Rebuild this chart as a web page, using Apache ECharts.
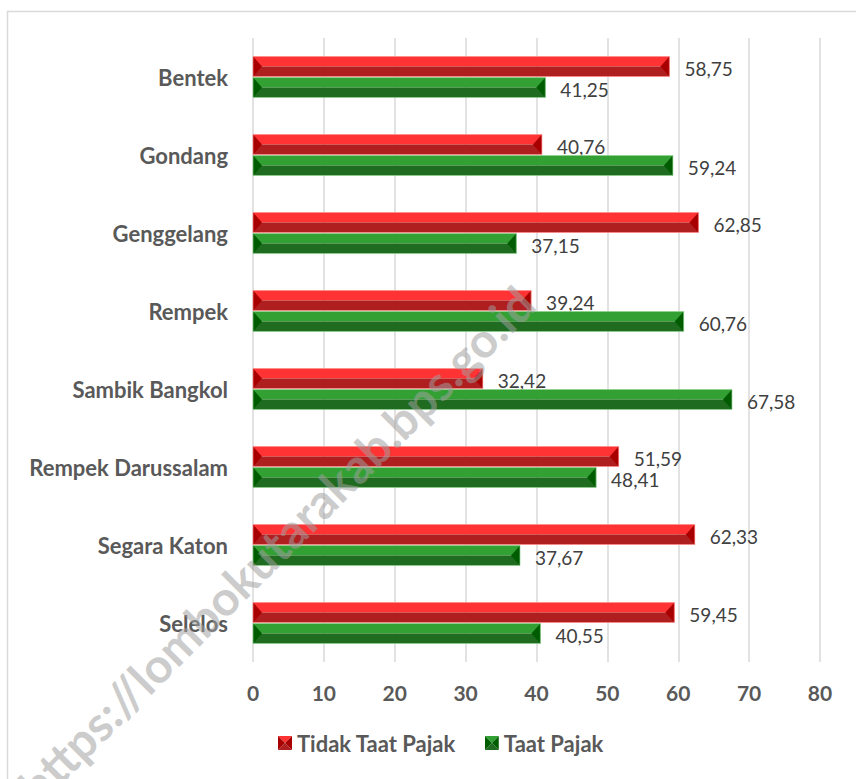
<!DOCTYPE html>
<html>
<head>
<meta charset="utf-8">
<script src="https://cdn.jsdelivr.net/npm/echarts@6/dist/echarts.min.js"></script>
<style>html,body{margin:0;padding:0;background:#fff}#c{width:856px;height:779px}</style>
</head>
<body>
<div id="c"></div>
<script>
var categories = ['Bentek', 'Gondang', 'Genggelang', 'Rempek', 'Sambik Bangkol', 'Rempek Darussalam', 'Segara Katon', 'Selelos'];
var tidakTaat = [58.75, 40.76, 62.85, 39.24, 32.42, 51.59, 62.33, 59.45];
var taat = [41.25, 59.24, 37.15, 60.76, 67.58, 48.41, 37.67, 40.55];
var seriesNames = ['Tidak Taat Pajak', 'Taat Pajak'];
var xTicks = [0, 10, 20, 30, 40, 50, 60, 70, 80];

var palettes = [
  {top: '#FF3333', bottom: '#B01F1F', end: '#A80000', edge: '#FF8A8A'},
  {top: '#33A033', bottom: '#1F6B1F', end: '#005C00', edge: '#8FD08F'}
];
function fmt(v){ return v.toFixed(2).replace('.', ','); }
function iconSvg(p){
  var s = '<svg xmlns="http://www.w3.org/2000/svg" width="14" height="14">' +
    '<polygon points="0,0 14,0 7,7" fill="' + p.top + '"/>' +
    '<polygon points="0,14 14,14 7,7" fill="' + p.bottom + '"/>' +
    '<polygon points="0,0 7,7 0,14" fill="' + p.end + '"/>' +
    '<polygon points="14,0 7,7 14,14" fill="' + p.end + '"/></svg>';
  return 'image://data:image/svg+xml;charset=utf-8,' + encodeURIComponent(s);
}
function makeRender(si){
  var p = palettes[si];
  return function(params, api){
    var val = api.value(0), ci = api.value(1);
    var start = api.coord([0, ci]);
    var end = api.coord([val, ci]);
    var yc = start[1];
    var h = 20;
    var top = si === 0 ? yc - 20.5 : yc + 0.5;
    var bot = top + h, mid = top + h / 2;
    var x0 = start[0], x1 = end[0];
    var ch = 9;
    return {
      type: 'group',
      children: [
        {type: 'rect', shape: {x: x0, y: top, width: x1 - x0, height: h / 2}, style: {fill: p.top}},
        {type: 'rect', shape: {x: x0, y: mid, width: x1 - x0, height: h / 2}, style: {fill: p.bottom}},
        {type: 'polygon', shape: {points: [[x0, top], [x0 + ch, mid], [x0, bot]]}, style: {fill: p.end}},
        {type: 'polygon', shape: {points: [[x1, top], [x1 - ch, mid], [x1, bot]]}, style: {fill: p.end}},
        {type: 'rect', shape: {x: x0, y: top, width: x1 - x0, height: h}, style: {fill: 'none', stroke: p.edge, lineWidth: 1, opacity: 0.7}},
        {type: 'text', style: {text: fmt(val), x: x1 + 15, y: mid + 2, verticalAlign: 'middle', align: 'left',
          font: '19px Lato, "Open Sans", sans-serif', fill: '#404040'}}
      ]
    };
  };
}
function toData(arr){ return arr.map(function(v, i){ return [v, i]; }); }

var chart = echarts.init(document.getElementById('c'), null, {renderer: 'svg'});
chart.setOption({
  backgroundColor: '#fff',
  animation: false,
  grid: {left: 253, right: 36, top: 38, bottom: 117, containLabel: false},
  xAxis: {
    type: 'value', min: 0, max: 80, interval: 10,
    axisLine: {show: false}, axisTick: {show: false},
    splitLine: {show: true, lineStyle: {color: '#D9D9D9', width: 1.5}},
    axisLabel: {margin: 20, color: '#595959', fontSize: 21, fontWeight: 'bold', fontFamily: 'Lato',
      formatter: function(v){ return xTicks.indexOf(v) >= 0 ? String(v) : ''; }}
  },
  yAxis: {
    type: 'category', data: categories, inverse: true,
    axisLine: {show: false}, axisTick: {show: false},
    axisLabel: {margin: 25, color: '#595959', fontSize: 22, fontWeight: 'bold', fontFamily: 'Lato'}
  },
  legend: {
    bottom: 20, left: 273, itemWidth: 14, itemHeight: 14, itemGap: 29,
    textStyle: {color: '#595959', fontSize: 22, fontWeight: 'bold', fontFamily: 'Lato'},
    data: [{name: seriesNames[0], icon: iconSvg(palettes[0])}, {name: seriesNames[1], icon: iconSvg(palettes[1])}]
  },
  graphic: [
    {type: 'rect', left: 5, top: 9, shape: {width: 900, height: 820}, style: {fill: 'none', stroke: '#D9D9D9', lineWidth: 1.5}, z: -1, silent: true},
    {type: 'text', x: 276, y: 544, rotation: 45 * Math.PI / 180, z: 100, silent: true,
      style: {text: 'https://lombokutarakab.bps.go.id', align: 'center', verticalAlign: 'middle',
        font: 'bold 48px Lato, sans-serif', fill: 'rgba(160,160,160,0.55)'}}
  ],
  series: [
    {name: seriesNames[0], type: 'custom', renderItem: makeRender(0), encode: {x: 0, y: 1}, data: toData(tidakTaat), itemStyle: {color: palettes[0].bottom}},
    {name: seriesNames[1], type: 'custom', renderItem: makeRender(1), encode: {x: 0, y: 1}, data: toData(taat), itemStyle: {color: palettes[1].bottom}}
  ]
});
</script>
</body>
</html>
